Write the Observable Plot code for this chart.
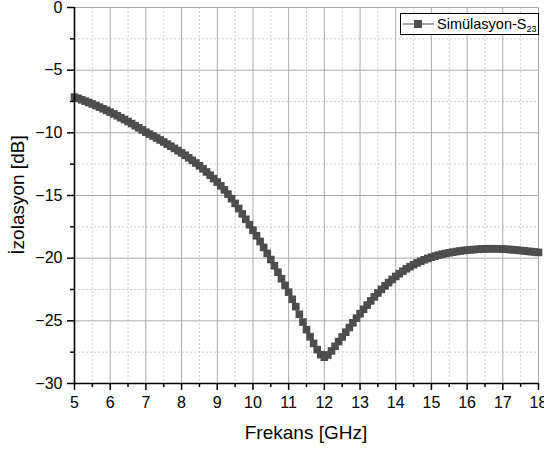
<!DOCTYPE html>
<html>
<head>
<meta charset="utf-8">
<script src="https://cdn.jsdelivr.net/npm/d3@7"></script>
<script src="https://cdn.jsdelivr.net/npm/@observablehq/plot@0.6"></script>
<style>
  html, body { margin: 0; padding: 0; background: white; }
</style>
</head>
<body>
<div id="chart"></div>
<script>
// Frequency samples (GHz)
const freq = [
  5.0,5.1,5.2,5.3,5.4,5.5,5.6,5.7,5.8,5.9,
  6.0,6.1,6.2,6.3,6.4,6.5,6.6,6.7,6.8,6.9,
  7.0,7.1,7.2,7.3,7.4,7.5,7.6,7.7,7.8,7.9,
  8.0,8.1,8.2,8.3,8.4,8.5,8.6,8.7,8.8,8.9,
  9.0,9.1,9.2,9.3,9.4,9.5,9.6,9.7,9.8,9.9,
  10.0,10.1,10.2,10.3,10.4,10.5,10.6,10.7,10.8,10.9,
  11.0,11.1,11.2,11.3,11.4,11.5,11.6,11.7,11.8,11.9,
  12.0,12.1,12.2,12.3,12.4,12.5,12.6,12.7,12.8,12.9,
  13.0,13.1,13.2,13.3,13.4,13.5,13.6,13.7,13.8,13.9,
  14.0,14.1,14.2,14.3,14.4,14.5,14.6,14.7,14.8,14.9,
  15.0,15.1,15.2,15.3,15.4,15.5,15.6,15.7,15.8,15.9,
  16.0,16.1,16.2,16.3,16.4,16.5,16.6,16.7,16.8,16.9,
  17.0,17.1,17.2,17.3,17.4,17.5,17.6,17.7,17.8,17.9,
  18.0
];
// Simulated isolation S23 (dB)
const s23 = [
  -7.15,-7.25,-7.36,-7.47,-7.58,-7.70,-7.82,-7.95,-8.08,-8.21,
  -8.35,-8.49,-8.64,-8.79,-8.94,-9.10,-9.26,-9.43,-9.60,-9.77,
  -9.95,-10.10,-10.25,-10.41,-10.57,-10.73,-10.90,-11.07,-11.24,-11.42,
  -11.60,-11.79,-11.99,-12.19,-12.41,-12.63,-12.87,-13.12,-13.38,-13.65,
  -13.93,-14.23,-14.55,-14.89,-15.25,-15.63,-16.04,-16.47,-16.90,-17.33,
  -17.77,-18.21,-18.67,-19.14,-19.62,-20.11,-20.61,-21.12,-21.64,-22.17,
  -22.71,-23.28,-23.87,-24.48,-25.10,-25.70,-26.27,-26.80,-27.30,-27.70,
  -27.90,-27.72,-27.40,-27.03,-26.66,-26.29,-25.91,-25.53,-25.16,-24.79,
  -24.43,-24.08,-23.74,-23.41,-23.09,-22.78,-22.49,-22.21,-21.95,-21.70,
  -21.46,-21.24,-21.04,-20.85,-20.68,-20.52,-20.38,-20.25,-20.13,-20.02,
  -19.92,-19.84,-19.76,-19.69,-19.63,-19.57,-19.52,-19.47,-19.43,-19.39,
  -19.36,-19.33,-19.31,-19.29,-19.27,-19.26,-19.25,-19.25,-19.25,-19.26,
  -19.27,-19.29,-19.31,-19.33,-19.36,-19.39,-19.42,-19.45,-19.48,-19.51,
  -19.54
];
const xMajor = [5,6,7,8,9,10,11,12,13,14,15,16,17,18];
const xMinor = [5.5,6.5,7.5,8.5,9.5,10.5,11.5,12.5,13.5,14.5,15.5,16.5,17.5];
const yMajor = [0,-5,-10,-15,-20,-25,-30];
const yMinor = [-2.5,-7.5,-12.5,-17.5,-22.5,-27.5];
const xTitle = "Frekans [GHz]";
const yTitle = "İzolasyon [dB]";
const seriesName = "Simülasyon-S";
const seriesSub = "23";

const data = freq.map((f, i) => ({f, v: s23[i]}));
const markColor = "#4d4d4d";

const chart = Plot.plot({
  width: 544,
  height: 452,
  marginLeft: 74,
  marginRight: 6,
  marginTop: 7,
  marginBottom: 69,
  style: {fontFamily: "'Liberation Sans', Arial, sans-serif", fontSize: "16px", color: "black", background: "white", overflow: "visible"},
  x: {domain: [5, 18]},
  y: {domain: [-30, 0]},
  marks: [
    Plot.gridX(xMinor, {stroke: "#cfcfcf", strokeOpacity: 1, strokeDasharray: "2,2"}),
    Plot.gridY(yMinor, {stroke: "#cfcfcf", strokeOpacity: 1, strokeDasharray: "2,2"}),
    Plot.gridX(xMajor, {stroke: "#ababab", strokeOpacity: 1}),
    Plot.gridY(yMajor, {stroke: "#ababab", strokeOpacity: 1}),
    Plot.line(data, {x: "f", y: "v", stroke: markColor, strokeWidth: 1}),
    Plot.dot(data, {x: "f", y: "v", symbol: "square", r: 4.3, fill: markColor, stroke: "none"}),
    Plot.ruleX([5], {stroke: "black", strokeWidth: 1.6}),
    Plot.ruleY([-30], {stroke: "black", strokeWidth: 1.6}),
    Plot.axisX(xMajor, {tickSize: 7, tickPadding: 6, strokeWidth: 1.5, label: null, fontSize: 16}),
    Plot.axisX(xMinor, {tickSize: 4, text: null, strokeWidth: 1.5, label: null}),
    Plot.axisY(yMajor, {tickSize: 7, tickPadding: 5, strokeWidth: 1.5, label: null, fontSize: 16}),
    Plot.axisY(yMinor, {tickSize: 4, text: null, strokeWidth: 1.5, label: null})
  ]
});

document.getElementById("chart").appendChild(chart);

const svg = d3.select(chart);
const ff = "'Liberation Sans', Arial, sans-serif";

// Axis titles
svg.append("text")
  .attr("x", 306).attr("y", 439)
  .attr("text-anchor", "middle")
  .attr("font-family", ff).attr("font-size", 19).attr("fill", "black")
  .text(xTitle);
svg.append("text")
  .attr("transform", "translate(24,195) rotate(-90)")
  .attr("text-anchor", "middle")
  .attr("font-family", ff).attr("font-size", 19).attr("fill", "black")
  .text(yTitle);

// Legend
const lg = svg.append("g").attr("text-anchor", "start");
lg.append("rect").attr("x", 400.5).attr("y", 13.5).attr("width", 138).attr("height", 21)
  .attr("fill", "white").attr("stroke", "black").attr("stroke-width", 1);
lg.append("line").attr("x1", 403).attr("x2", 434).attr("y1", 24).attr("y2", 24)
  .attr("stroke", markColor).attr("stroke-width", 1);
lg.append("rect").attr("x", 414).attr("y", 20).attr("width", 8).attr("height", 8).attr("fill", markColor);
const lt = lg.append("text").attr("x", 437).attr("y", 28.5)
  .attr("text-anchor", "start")
  .attr("font-family", ff).attr("font-size", 14.5).attr("fill", "black");
lt.append("tspan").text(seriesName);
lt.append("tspan").attr("font-size", 9).attr("dy", 3).text(seriesSub);
</script>
</body>
</html>
